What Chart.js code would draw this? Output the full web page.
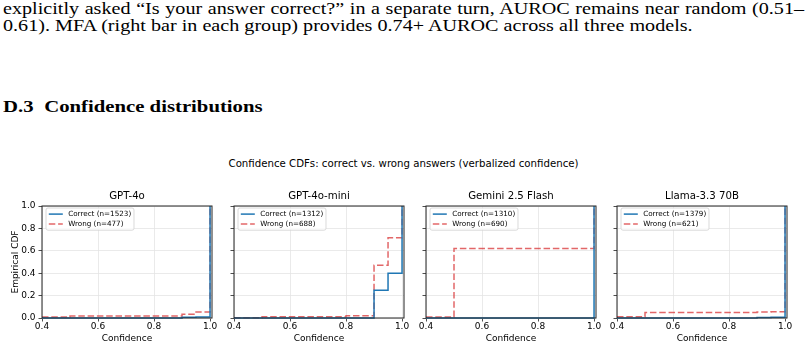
<!DOCTYPE html>
<html>
<head>
<meta charset="utf-8">
<script src="https://cdn.jsdelivr.net/npm/chart.js@4.4.1/dist/chart.umd.min.js"></script>
<style>
  body { margin: 0; width: 807px; height: 349px; background: #fff; position: relative; overflow: hidden; }
  .txt { position: absolute; left: 3px; font-family: 'Liberation Serif', serif; font-size: 17px; line-height: 17px; color: #000;
         white-space: nowrap; transform: scaleX(1.185); transform-origin: 0 0; }
  #l1 { top: 0px; width: 676px; text-align: justify; text-align-last: justify; white-space: normal; }
  #l2 { top: 17px; }
  #head { top: 98px; font-weight: bold; font-size: 17.5px; }
  #head span { margin-left: 9px; }
  #suptitle { position: absolute; top: 158px; left: 0; width: 807px; text-align: center; font-family: 'DejaVu Sans', sans-serif;
              font-size: 10.2px; line-height: 12px; color: #000; }
  canvas { position: absolute; top: 185px; }
</style>
</head>
<body>
<div class="txt" id="l1">explicitly asked “Is your answer correct?” in a separate turn, AUROC remains near random (0.51–</div>
<div class="txt" id="l2">0.61). MFA (right bar in each group) provides 0.74+ AUROC across all three models.</div>
<div class="txt" id="head">D.3<span>Confidence distributions</span></div>
<div id="suptitle">Confidence CDFs: correct vs. wrong answers (verbalized confidence)</div>
<canvas id="c0" width="220" height="164"></canvas>
<canvas id="c1" width="220" height="164"></canvas>
<canvas id="c2" width="220" height="164"></canvas>
<canvas id="c3" width="220" height="164"></canvas>
<script>
// values
const models = ['GPT-4o', 'GPT-4o-mini', 'Gemini 2.5 Flash', 'Llama-3.3 70B'];
const nCorrect = [1523, 1312, 1310, 1379];
const nWrong = [477, 688, 690, 621];
const confSteps = [0.4, 0.5, 0.8, 0.9, 0.95, 1.0];

const gpt4oCorrect  = [0.0,   0.0,   0.0,   0.006, 0.008, 1.0];
const gpt4oWrong    = [0.01,  0.018, 0.018, 0.033, 0.054, 1.0];
const miniCorrect   = [0.0,   0.0,   0.0,   0.248, 0.40,  1.0];
const miniWrong     = [0.003, 0.012, 0.02,  0.47,  0.716, 1.0];
const geminiCorrect = [0.0,   0.0,   0.0,   0.0,   0.0,   1.0];
const geminiWrong   = [0.009, 0.62,  0.62,  0.62,  0.62,  1.0];
const llamaCorrect  = [0.0,   0.0,   0.0,   0.005, 0.006, 1.0];
const llamaWrong    = [0.012, 0.05,  0.05,  0.053, 0.056, 1.0];

const xTicks = [0.4, 0.6, 0.8, 1.0];

const correctCdfs = [gpt4oCorrect, miniCorrect, geminiCorrect, llamaCorrect];
const wrongCdfs = [gpt4oWrong, miniWrong, geminiWrong, llamaWrong];
const canvasLeft = [-1, 191, 383, 574];

Chart.defaults.font.family = "'DejaVu Sans'";
Chart.defaults.color = '#000';

const toPoints = (ys) => confSteps.map((x, i) => ({ x: x, y: ys[i] }));

// box round the plot area, drawn over the lines like matplotlib spines
const frame = {
    id: 'frame',
    afterDatasetsDraw(chart) {
        const { ctx, chartArea: a } = chart;
        ctx.save();
        ctx.strokeStyle = '#222';
        ctx.lineWidth = 1;
        ctx.strokeRect(a.left, a.top, a.right - a.left, a.bottom - a.top);
        ctx.restore();
    }
};

// legend in the upper-left corner of the axes
const insideLegend = {
    id: 'insideLegend',
    afterDraw(chart) {
        const { ctx, chartArea: a } = chart;
        const fs = 7.2;
        const sets = chart.data.datasets;
        ctx.save();
        ctx.font = fs + "px 'DejaVu Sans'";
        const textW = Math.max(...sets.map(d => ctx.measureText(d.label).width));
        const pad = 2.8, handle = 14, gap = 5.4, rowH = 6.6, spacing = 3.4;
        const x = a.left + 4, y = a.top + 2;
        const w = pad * 2 + handle + gap + textW;
        const h = pad * 2 + sets.length * rowH + (sets.length - 1) * spacing;
        ctx.beginPath();
        ctx.roundRect(x, y, w, h, 2);
        ctx.fillStyle = 'rgba(255,255,255,0.8)';
        ctx.fill();
        ctx.strokeStyle = '#d0d0d0';
        ctx.lineWidth = 0.8;
        ctx.stroke();
        sets.forEach((d, i) => {
            const cy = y + pad + rowH / 2 + i * (rowH + spacing);
            ctx.beginPath();
            ctx.setLineDash(d.borderDash || []);
            ctx.strokeStyle = d.borderColor;
            ctx.lineWidth = d.borderWidth;
            ctx.moveTo(x + pad, cy);
            ctx.lineTo(x + pad + handle, cy);
            ctx.stroke();
            ctx.setLineDash([]);
            ctx.fillStyle = '#000';
            ctx.textBaseline = 'middle';
            ctx.fillText(d.label, x + pad + handle + gap, cy);
        });
        ctx.restore();
    }
};

const gridOpts = { color: '#e4e4e4', lineWidth: 0.8, tickColor: '#222', tickLength: 3.5, tickWidth: 0.8 };

models.forEach((name, i) => {
    const el = document.getElementById('c' + i);
    el.style.left = canvasLeft[i] + 'px';
    const first = i === 0;
    new Chart(el, {
        type: 'line',
        data: {
            datasets: [{
                label: 'Correct (n=' + nCorrect[i] + ')',
                data: toPoints(correctCdfs[i]),
                borderColor: '#1f77b4',
                borderWidth: 1.5,
                stepped: true,
                pointRadius: 0,
                clip: false
            }, {
                label: 'Wrong (n=' + nWrong[i] + ')',
                data: toPoints(wrongCdfs[i]),
                borderColor: 'rgba(214,39,40,0.7)',
                borderWidth: 1.5,
                borderDash: [6.5, 2.8],
                stepped: true,
                pointRadius: 0,
                clip: false
            }]
        },
        options: {
            responsive: false,
            animation: false,
            devicePixelRatio: 1,
            layout: { padding: { left: 0, right: 7, top: 0, bottom: 0 } },
            plugins: {
                legend: { display: false },
                tooltip: { enabled: false },
                title: { display: false }
            },
            scales: {
                x: {
                    type: 'linear',
                    min: 0.4,
                    max: 1.007,
                    afterBuildTicks: (s) => { s.ticks = xTicks.map(v => ({ value: v })); },
                    afterFit: (s) => { s.height = 31; },
                    border: { display: false },
                    grid: gridOpts,
                    ticks: { font: { size: 9 }, padding: 0, maxRotation: 0, callback: (v) => Number(v).toFixed(1) },
                    title: { display: true, text: 'Confidence', font: { size: 9 }, padding: { top: 0, bottom: 4.6 } }
                },
                // top axis only carries the panel title, centred on the plot area
                xTop: {
                    type: 'linear',
                    axis: 'x',
                    position: 'top',
                    min: 0.4,
                    max: 1.007,
                    afterFit: (s) => { s.height = 21; },
                    border: { display: false },
                    grid: { display: false },
                    ticks: { display: false },
                    title: { display: true, text: name, font: { size: 10.2 }, padding: { top: 4.9, bottom: 0 } }
                },
                y: {
                    min: 0,
                    max: 1,
                    afterFit: (s) => { s.width = 43; },
                    border: { display: false },
                    grid: gridOpts,
                    ticks: { stepSize: 0.2, font: { size: 9 }, padding: 3,
                             callback: (v) => first ? Number(v).toFixed(1) : '' },
                    title: { display: first, text: 'Empirical CDF', font: { size: 9 }, padding: { top: 11.6, bottom: 0 } }
                }
            }
        },
        plugins: [frame, insideLegend]
    });
});
</script>
</body>
</html>
